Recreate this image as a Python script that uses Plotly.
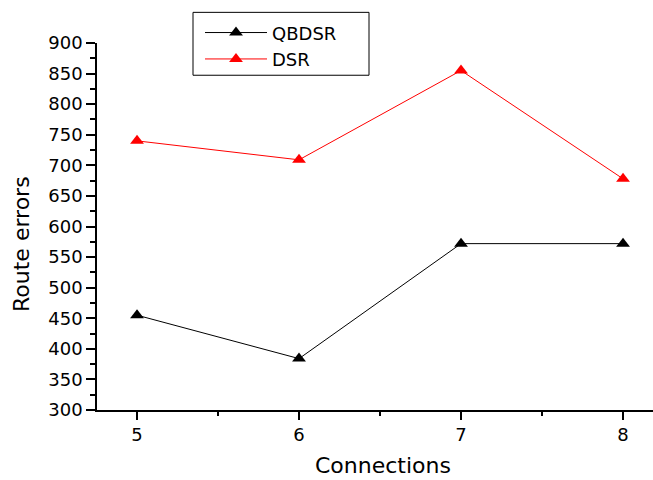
import plotly.graph_objects as go

connections = [5, 6, 7, 8]
qbdsr = [455, 384, 572, 572]
dsr = [740, 709, 855, 678]

FONT = "DejaVu Sans"

def px_x(px):
    return (px - 97) / 556

def px_y(py):
    return (410.3 - py) / 367.6

fig = go.Figure()
fig.add_trace(go.Scatter(x=connections, y=qbdsr, name="QBDSR", mode="lines+markers",
                         line=dict(color="black", width=1),
                         marker=dict(symbol="triangle-up", size=12, color="black")))
fig.add_trace(go.Scatter(x=connections, y=dsr, name="DSR", mode="lines+markers",
                         line=dict(color="#ff0000", width=1),
                         marker=dict(symbol="triangle-up", size=12, color="#ff0000")))

fig.update_layout(
    width=653, height=480,
    margin=dict(l=97, r=0, t=43, b=70),
    plot_bgcolor="white", paper_bgcolor="white",
    font=dict(family=FONT, size=18, color="black"),
    showlegend=True,
    legend=dict(x=px_x(200), y=px_y(14), xanchor="left", yanchor="top",
                bgcolor="rgba(0,0,0,0)", borderwidth=0,
                font=dict(family=FONT, size=18), itemwidth=62,
                tracegroupgap=0),
    shapes=[dict(type="rect", xref="paper", yref="paper",
                 x0=px_x(193), x1=px_x(369), y0=px_y(75), y1=px_y(12),
                 line=dict(color="black", width=1), fillcolor="rgba(0,0,0,0)", layer="below")],
    xaxis=dict(range=[4.753, 8.185], tickvals=connections, showgrid=False,
               zeroline=False, showline=True, linecolor="black", linewidth=1.5,
               ticks="outside", ticklen=8, tickwidth=1.5, tickcolor="black",
               minor=dict(dtick=0.5, tick0=5, ticks="outside", ticklen=4, tickwidth=1.5, tickcolor="black"),
               tickfont=dict(family=FONT, size=18), fixedrange=True),
    yaxis=dict(range=[300, 900], dtick=50, tick0=300, showgrid=False,
               zeroline=False, showline=True, linecolor="black", linewidth=1.5,
               ticks="outside", ticklen=9, tickwidth=1.5, tickcolor="black",
               minor=dict(dtick=25, ticks="outside", ticklen=5, tickwidth=1.5, tickcolor="black"),
               tickfont=dict(family=FONT, size=18), fixedrange=True),
    annotations=[
        dict(text="Connections", xref="paper", yref="paper", x=px_x(383), y=px_y(466),
             showarrow=False, font=dict(family=FONT, size=22), xanchor="center", yanchor="middle"),
        dict(text="Route errors", xref="paper", yref="paper", x=px_x(22), y=px_y(244),
             showarrow=False, textangle=-90, font=dict(family=FONT, size=22), xanchor="center", yanchor="middle"),
    ],
)

fig.write_html("out.html")
